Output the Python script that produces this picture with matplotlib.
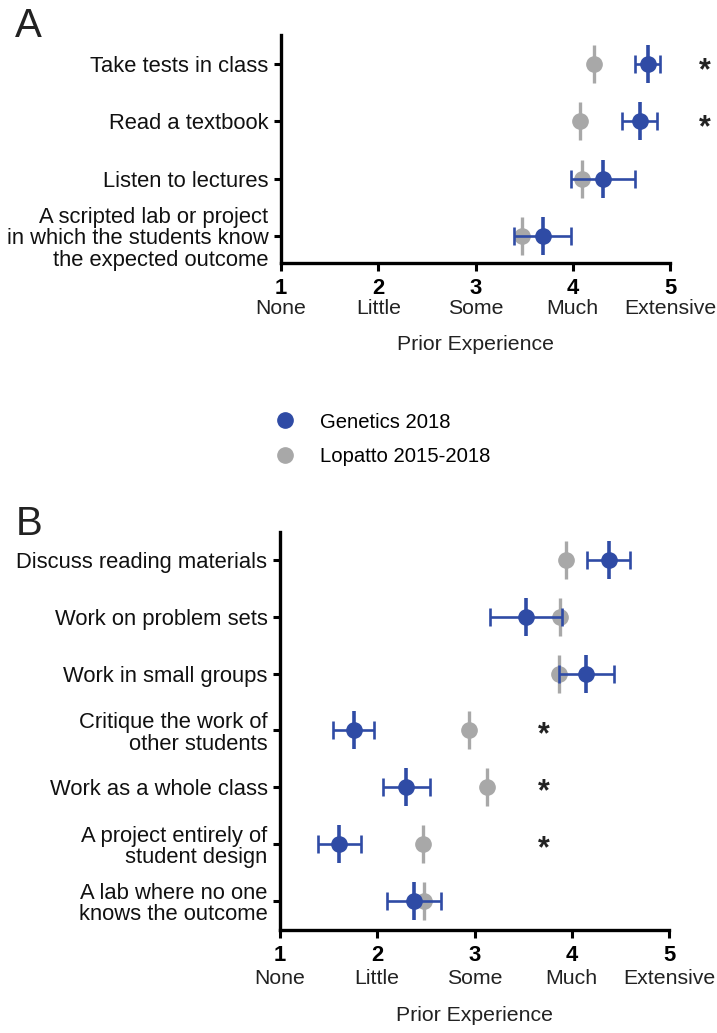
import matplotlib
matplotlib.use("Agg")
import matplotlib.pyplot as plt
from matplotlib.lines import Line2D

plt.rcParams['font.family'] = ['Liberation Sans', 'DejaVu Sans']

BLUE = '#2f4ba5'
GRAY = '#a8a8a8'
FS = 15.8
FSX = 15.3

# ---- data ----
scale_ticks = [1, 2, 3, 4, 5]
scale_words = ['None', 'Little', 'Some', 'Much', 'Extensive']

a_labels = ['Take tests in class', 'Read a textbook', 'Listen to lectures',
            'A scripted lab or project\nin which the students know\nthe expected outcome']
a_genetics = [4.77, 4.69, 4.31, 3.69]
a_genetics_err = [0.13, 0.18, 0.33, 0.29]
a_lopatto = [4.22, 4.07, 4.09, 3.48]
a_sig = [True, True, False, False]

b_labels = ['Discuss reading materials', 'Work on problem sets', 'Work in small groups',
            'Critique the work of\nother students', 'Work as a whole class',
            'A project entirely of\nstudent design', 'A lab where no one\nknows the outcome']
b_genetics = [4.38, 3.53, 4.15, 1.76, 2.30, 1.61, 2.38]
b_genetics_err = [0.22, 0.37, 0.28, 0.21, 0.245, 0.22, 0.28]
b_lopatto = [3.94, 3.88, 3.87, 2.94, 3.13, 2.47, 2.48]
b_sig = [False, False, False, True, True, True, False]

W, H = 717, 1033
fig = plt.figure(figsize=(W / 100, H / 100), dpi=100)


def px_axes(left, right, top, bottom):
    return fig.add_axes([left / W, 1 - bottom / H, (right - left) / W, (bottom - top) / H])


def draw_panel(ax, labels, gen, gen_err, lop, sig, star_x, star_dy, ylim, word_pad, xlabel_pad):
    n = len(labels)
    ys = list(range(n))
    # Lopatto (gray)
    ax.plot(lop, ys, ls='none', marker='|', markersize=27, mew=2.4, color=GRAY, zorder=2)
    ax.plot(lop, ys, ls='none', marker='o', markersize=11, color=GRAY, zorder=2)
    # Genetics (blue)
    ax.errorbar(gen, ys, xerr=gen_err, fmt='none', ecolor=BLUE, elinewidth=1.9,
                capsize=6.8, capthick=1.9, zorder=3)
    ax.plot(gen, ys, ls='none', marker='|', markersize=27, mew=2.6, color=BLUE, zorder=3)
    ax.plot(gen, ys, ls='none', marker='o', markersize=11, color=BLUE, zorder=3)
    for y, s in zip(ys, sig):
        if s:
            ax.text(star_x, y + star_dy, '*', fontsize=22, fontweight='bold', ha='center',
                    va='baseline', color='#222222', clip_on=False)
    ax.set_xlim(1, 5)
    ax.set_ylim(*ylim)
    ax.set_yticks(ys)
    ax.set_yticklabels(labels, fontsize=FS, linespacing=1.05)
    ax.xaxis.remove_overlapping_locs = False
    ax.set_xticks(scale_ticks)
    ax.set_xticklabels([str(t) for t in scale_ticks], fontsize=FS, fontweight='bold')
    ax.set_xticks(scale_ticks, minor=True)
    ax.set_xticklabels(scale_words, minor=True, fontsize=FSX, color='#222222')
    ax.tick_params(axis='x', which='minor', length=0, pad=word_pad)
    ax.tick_params(axis='x', which='major', length=6, width=2.2, pad=5)
    ax.tick_params(axis='y', length=5, width=2.2, pad=4, labelcolor='#111111')
    for s in ['top', 'right']:
        ax.spines[s].set_visible(False)
    for s in ['left', 'bottom']:
        ax.spines[s].set_linewidth(2.4)
    ax.set_xlabel('Prior Experience', fontsize=FSX, labelpad=xlabel_pad, color='#222222')


axA = px_axes(281, 670, 35, 263)
draw_panel(axA, a_labels, a_genetics, a_genetics_err, a_lopatto, a_sig,
           5.36, 0.27, (3.47, -0.5), 26, 12)

axB = px_axes(280, 669, 532, 930)
draw_panel(axB, b_labels, b_genetics, b_genetics_err, b_lopatto, b_sig,
           3.71, 0.23, (6.51, -0.49), 28, 13)

fig.text(15 / W, 1 - 7 / H, 'A', fontsize=29, va='top', ha='left', color='#222222')
fig.text(16 / W, 1 - 505 / H, 'B', fontsize=29, va='top', ha='left', color='#222222')

handles = [Line2D([], [], ls='none', marker='o', markersize=11, color=BLUE),
           Line2D([], [], ls='none', marker='o', markersize=11, color=GRAY)]
fig.legend(handles, ['Genetics 2018', 'Lopatto 2015-2018'], loc='center left',
           bbox_to_anchor=(274.6 / W, 1 - 439.5 / H), frameon=False, fontsize=14.6,
           handlelength=1.0, handletextpad=1.25, labelspacing=0.78, borderpad=0,
           borderaxespad=0)

fig.savefig('out.png', dpi=100)
